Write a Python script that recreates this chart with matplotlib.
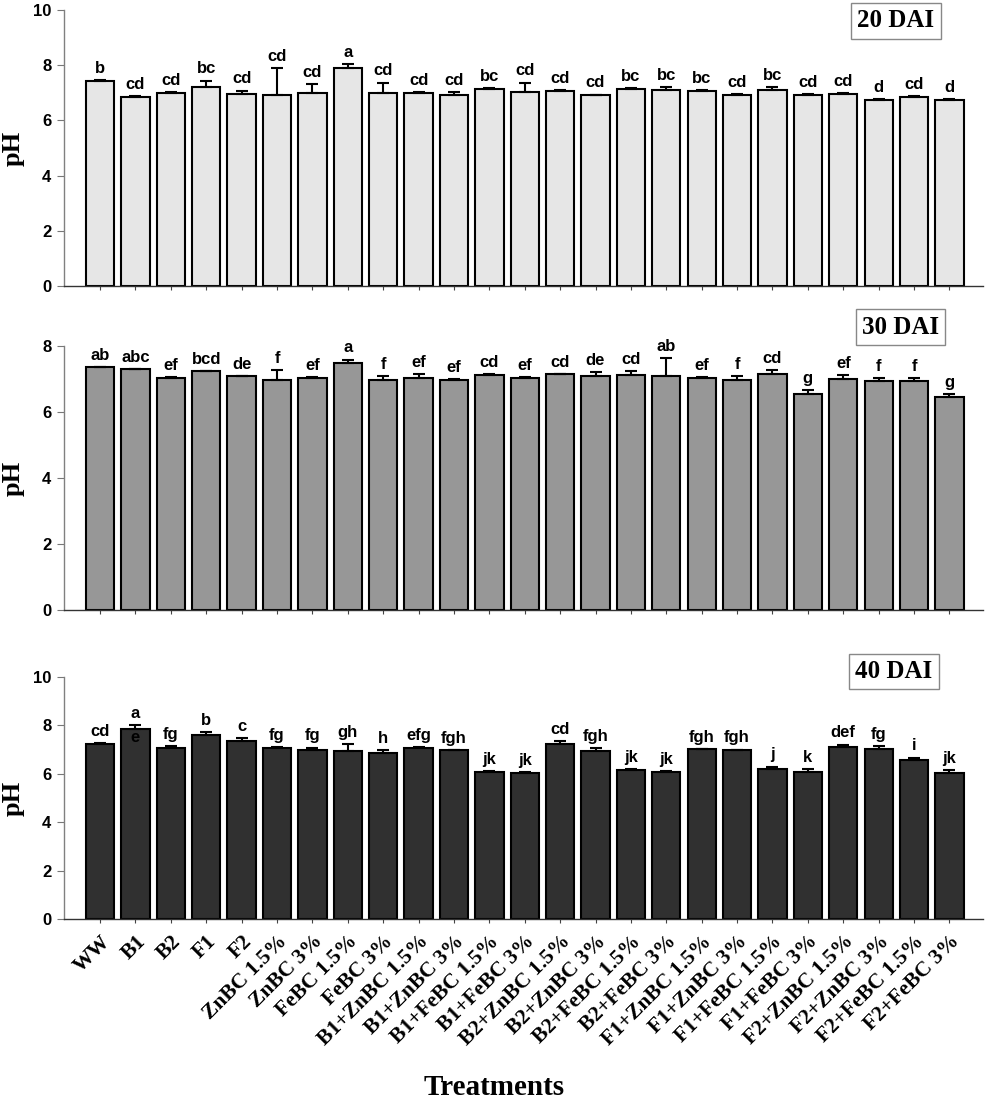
import numpy as np
import matplotlib
matplotlib.use("Agg")
import matplotlib.pyplot as plt

treatments = ["WW", "B1", "B2", "F1", "F2", "ZnBC 1.5%", "ZnBC 3%", "FeBC 1.5%",
              "FeBC 3%", "B1+ZnBC 1.5%", "B1+ZnBC 3%", "B1+FeBC 1.5%", "B1+FeBC 3%",
              "B2+ZnBC 1.5%", "B2+ZnBC 3%", "B2+FeBC 1.5%", "B2+FeBC 3%",
              "F1+ZnBC 1.5%", "F1+ZnBC 3%", "F1+FeBC 1.5%", "F1+FeBC 3%",
              "F2+ZnBC 1.5%", "F2+ZnBC 3%", "F2+FeBC 1.5%", "F2+FeBC 3%"]

ph_20 = [7.44, 6.85, 7.00, 7.20, 6.96, 6.92, 6.99, 7.89, 7.00, 7.00, 6.90, 7.15, 7.02,
         7.07, 6.91, 7.15, 7.11, 7.08, 6.93, 7.11, 6.92, 6.96, 6.74, 6.85, 6.75]
err_20 = [0.02, 0.02, 0.02, 0.24, 0.12, 0.98, 0.32, 0.14, 0.37, 0.02, 0.13, 0.02, 0.35,
          0.02, 0.02, 0.02, 0.10, 0.02, 0.02, 0.10, 0.02, 0.03, 0.03, 0.02, 0.03]
let_20 = ["b", "cd", "cd", "bc", "cd", "cd", "cd", "a", "cd", "cd", "cd", "bc", "cd",
          "cd", "cd", "bc", "bc", "bc", "cd", "bc", "cd", "cd", "d", "cd", "d"]

ph_30 = [7.35, 7.29, 7.04, 7.23, 7.08, 6.96, 7.03, 7.49, 6.98, 7.03, 6.98, 7.13, 7.03,
         7.14, 7.08, 7.13, 7.10, 7.03, 6.98, 7.16, 6.55, 7.01, 6.94, 6.94, 6.45]
err_30 = [0.02, 0.02, 0.02, 0.02, 0.02, 0.31, 0.02, 0.10, 0.11, 0.12, 0.02, 0.03, 0.02,
          0.02, 0.12, 0.12, 0.53, 0.02, 0.10, 0.10, 0.12, 0.10, 0.10, 0.10, 0.10]
let_30 = ["ab", "abc", "ef", "bcd", "de", "f", "ef", "a", "f", "ef", "ef", "cd", "ef",
          "cd", "de", "cd", "ab", "ef", "f", "cd", "g", "ef", "f", "f", "g"]

ph_40 = [7.24, 7.86, 7.05, 7.60, 7.36, 7.07, 6.98, 6.93, 6.85, 7.08, 6.97, 6.09, 6.05,
         7.24, 6.95, 6.16, 6.09, 7.01, 6.98, 6.18, 6.07, 7.11, 7.04, 6.56, 6.04]
err_40 = [0.02, 0.14, 0.10, 0.12, 0.12, 0.02, 0.10, 0.30, 0.14, 0.02, 0.02, 0.02, 0.02,
          0.11, 0.12, 0.02, 0.02, 0.02, 0.02, 0.12, 0.12, 0.10, 0.10, 0.11, 0.10]
let_40 = ["cd", "a", "fg", "b", "c", "fg", "fg", "gh", "h", "efg", "fgh", "jk", "jk",
          "cd", "fgh", "jk", "jk", "fgh", "fgh", "j", "k", "def", "fg", "i", "jk"]

panels = [
    ("20 DAI", ph_20, err_20, let_20, "#e6e6e6", 10, [0.0646, 0.7405, 0.9284, 0.2505], (0.905, 0.96)),
    ("30 DAI", ph_30, err_30, let_30, "#979797", 8, [0.0646, 0.4465, 0.9284, 0.2395], (0.91, 1.072)),
    ("40 DAI", ph_40, err_40, let_40, "#303030", 10, [0.0646, 0.166, 0.9284, 0.2197], (0.903, 1.023)),
]

serif = "Liberation Serif"
sans = "Liberation Sans"

fig = plt.figure(figsize=(9.9, 11.02), dpi=100)
x = np.arange(len(treatments))

for i, (name, vals, errs, lets, color, ymax, rect, boxpos) in enumerate(panels):
    ax = fig.add_axes(rect)
    ax.bar(x, vals, width=0.8, color=color, edgecolor="black", linewidth=1.5, zorder=2)
    ax.errorbar(x, vals, yerr=[np.zeros(len(vals)), errs], fmt="none", ecolor="black",
                elinewidth=1.5, capsize=4, capthick=1.5, zorder=3)
    for xi, v, e, t in zip(x, vals, errs, lets):
        ax.annotate(t, (xi, v + e), xytext=(0, 3), textcoords="offset points",
                    ha="center", va="bottom", fontsize=12, fontweight="bold",
                    family=sans)
    ax.set_xlim(-1.02, 24.95)
    ax.set_ylim(0, ymax)
    ax.set_yticks(range(0, ymax + 1, 2))
    for lab in ax.get_yticklabels():
        lab.set_fontweight("bold")
        lab.set_family(sans)
        lab.set_fontsize(12)
    ax.set_xticks(x)
    ax.tick_params(axis="x", length=3, width=0.8, color="#444444", direction="out")
    ax.tick_params(axis="y", length=5, width=0.8, color="#777777", direction="out", pad=4)
    for s in ["top", "right"]:
        ax.spines[s].set_visible(False)
    ax.spines["left"].set_color("#808080")
    ax.spines["left"].set_linewidth(1.0)
    ax.spines["bottom"].set_color("#333333")
    ax.spines["bottom"].set_linewidth(1.0)
    ax.set_ylabel("pH", fontsize=19, fontweight="bold", family=serif)
    ax.yaxis.set_label_coords(-0.043, 0.5)
    ax.text(boxpos[0], boxpos[1], name, transform=ax.transAxes, ha="center", va="center",
            fontsize=18, fontweight="bold", family=serif, clip_on=False,
            bbox=dict(boxstyle="square,pad=0.25", facecolor="white", edgecolor="#888888",
                      linewidth=1.0))
    if i < 2:
        ax.set_xticklabels([])
    else:
        ax.set_xticklabels(treatments, rotation=45, ha="right", va="top",
                           rotation_mode="anchor", fontsize=15.5, fontweight="bold",
                           family=serif)
        ax.tick_params(axis="x", pad=6)
        # stray letter printed under the "a" on the B1 bar
        ax.text(1, vals[1] - 0.05, "e", ha="center", va="top", fontsize=12,
                fontweight="bold", family=sans, color="black", zorder=4)

fig.text(0.499, 0.0065, "Treatments", ha="center", va="baseline", fontsize=21,
         fontweight="bold", family=serif)

fig.savefig("out.png", dpi=100)
